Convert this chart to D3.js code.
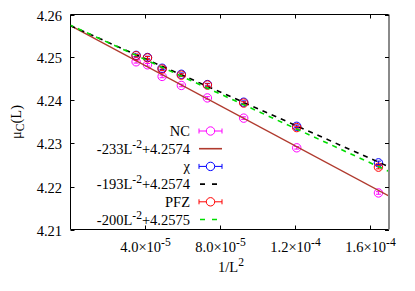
<!DOCTYPE html>
<html><head><meta charset="utf-8">
<script src="https://cdn.jsdelivr.net/npm/d3@7"></script>
<style>
body{margin:0;background:#fff;}
text{font-family:"Liberation Serif","Times New Roman",serif;}
</style></head>
<body><svg id="c" width="415" height="291"></svg>
<script>
// ---- data ----
const L = [169, 156, 143, 130, 117, 104, 91, 78];
const ncValues  = [4.2490, 4.2483, 4.2456, 4.2435, 4.2406, 4.2359, 4.2290, 4.2185];
const ncErr     = [0.0003, 0.0003, 0.0003, 0.0003, 0.0003, 0.0003, 0.0003, 0.0003];
const chiValues = [4.2505, 4.2500, 4.2475, 4.2461, 4.2437, 4.2396, 4.2340, 4.2255];
const chiErr    = [0.0003, 0.0003, 0.0003, 0.0003, 0.0003, 0.0003, 0.0003, 0.0004];
const pfzValues = [4.2504, 4.2499, 4.2473, 4.2459, 4.2436, 4.2394, 4.2337, 4.2245];
const pfzErr    = [0.0003, 0.0003, 0.0003, 0.0003, 0.0003, 0.0003, 0.0003, 0.0004];
const fits = [
  {a: -233, b: 4.2574},
  {a: -193, b: 4.2574},
  {a: -200, b: 4.2575}
];
const legendLabels = ["NC", "-233L^-2+4.2574", "χ", "-193L^-2+4.2574", "PFZ", "-200L^-2+4.2575"];
const xTicks = [4e-5, 8e-5, 1.2e-4, 1.6e-4];
const xTickLabels = ["4.0×10^-5", "8.0×10^-5", "1.2×10^-4", "1.6×10^-4"];
const yTicks = [4.21, 4.22, 4.23, 4.24, 4.25, 4.26];
const yTickLabels = ["4.21", "4.22", "4.23", "4.24", "4.25", "4.26"];
const xDomain = [0, 1.7e-4];
const yDomain = [4.21, 4.26];

// ---- drawing ----
(function(){
const svg = d3.select("#c");
const pL = 70.5, pR = 389, pT = 14.5, pB = 229.5;
const x = d3.scaleLinear().domain(xDomain).range([pL, pR]);
const y = d3.scaleLinear().domain(yDomain).range([pB, pT]);
const FS = 14.5;

function supText(sel, label) {
  const m = label.match(/^(.*?)\^(-?\d+)(.*)$/);
  if (!m) { sel.text(label); return; }
  sel.append("tspan").text(m[1]);
  sel.append("tspan").attr("dy", -6).attr("font-size", FS * 0.8).text(m[2]);
  if (m[3]) sel.append("tspan").attr("dy", 6).text(m[3]);
}

const g = svg.append("g");
g.append("line").attr("x1", pL).attr("x2", pR).attr("y1", pT).attr("y2", pT).attr("stroke", "#000");
g.append("line").attr("x1", pL).attr("x2", pR).attr("y1", pB).attr("y2", pB).attr("stroke", "#000");
g.append("line").attr("x1", pL).attr("x2", pL).attr("y1", pT).attr("y2", pB).attr("stroke", "#000");
g.append("line").attr("x1", pR).attr("x2", pR).attr("y1", pT).attr("y2", pB).attr("stroke", "#8a8a8a").attr("stroke-width", 2);

yTicks.forEach((t, i) => {
  const yy = Math.round(y(t)) + 0.5;
  g.append("line").attr("x1", pL).attr("x2", pL + 4).attr("y1", yy).attr("y2", yy).attr("stroke", "#000");
  g.append("line").attr("x1", pR - 4).attr("x2", pR).attr("y1", yy).attr("y2", yy).attr("stroke", "#000");
  g.append("text").attr("x", 62).attr("y", yy + 5).attr("text-anchor", "end")
    .attr("font-size", FS).text(yTickLabels[i]);
});
xTicks.forEach((t, i) => {
  const xx = Math.round(x(t)) + 0.5;
  g.append("line").attr("x1", xx).attr("x2", xx).attr("y1", pB).attr("y2", pB - 4).attr("stroke", "#000");
  g.append("line").attr("x1", xx).attr("x2", xx).attr("y1", pT).attr("y2", pT + 4).attr("stroke", "#000");
  const tx = g.append("text").attr("x", xx).attr("y", 252).attr("text-anchor", "middle").attr("font-size", FS);
  supText(tx, xTickLabels[i]);
});

const xl = g.append("text").attr("x", 231).attr("y", 272).attr("text-anchor", "middle").attr("font-size", FS);
supText(xl, "1/L^2");
const yl = g.append("text").attr("transform", "translate(21,122) rotate(-90)").attr("text-anchor", "middle").attr("font-size", FS);
yl.append("tspan").text("μ");
yl.append("tspan").attr("dy", 3).attr("font-size", FS * 0.8).text("C");
yl.append("tspan").attr("dy", -3).text("(L)");

svg.append("clipPath").attr("id", "clip").append("rect")
  .attr("x", pL).attr("y", pT).attr("width", pR - pL - 1).attr("height", pB - pT);
const plot = svg.append("g").attr("clip-path", "url(#clip)");

const invL2 = L.map(l => 1 / (l * l));
const series = [
  {vals: ncValues, err: ncErr, color: "#ff00ff", fit: fits[0], fitColor: "#b03a2e", dash: null},
  {vals: chiValues, err: chiErr, color: "#0000ff", fit: fits[1], fitColor: "#000000", dash: "5,5"},
  {vals: pfzValues, err: pfzErr, color: "#ff0000", fit: fits[2], fitColor: "#00dd00", dash: "5,5"}
];
const R = 4.2;

function drawPoints(sel, s) {
  s.vals.forEach((v, i) => {
    const cx = x(invL2[i]), cy = y(v);
    const y1 = y(v - s.err[i]), y2 = y(v + s.err[i]);
    sel.append("line").attr("x1", cx).attr("x2", cx).attr("y1", y1).attr("y2", y2).attr("stroke", s.color);
    sel.append("line").attr("x1", cx - 2.5).attr("x2", cx + 2.5).attr("y1", y1).attr("y2", y1).attr("stroke", s.color);
    sel.append("line").attr("x1", cx - 2.5).attr("x2", cx + 2.5).attr("y1", y2).attr("y2", y2).attr("stroke", s.color);
    sel.append("circle").attr("cx", cx).attr("cy", cy).attr("r", R).attr("fill", "none").attr("stroke", s.color);
  });
}
function drawFit(sel, s, offset) {
  const line = d3.line().x(d => x(d)).y(d => y(s.fit.a * d + s.fit.b));
  const p = sel.append("path").datum(xDomain).attr("d", line).attr("fill", "none")
    .attr("stroke", s.fitColor).attr("stroke-width", s.dash ? 1.6 : 1.3);
  if (s.dash) p.attr("stroke-dasharray", s.dash).attr("stroke-dashoffset", offset);
}
series.forEach((s, k) => {
  drawPoints(plot, s);
  drawFit(plot, s, k === 2 ? 2 : 0);
});

const legX = 190, sx1 = 199, sx2 = 222, rowY0 = 131, rowH = 17.7;
legendLabels.forEach((lab, i) => {
  const yy = rowY0 + i * rowH;
  const t = g.append("text").attr("x", legX).attr("y", yy + 5).attr("text-anchor", "end").attr("font-size", FS);
  supText(t, lab);
  const s = series[Math.floor(i / 2)];
  if (i % 2 === 0) {
    g.append("line").attr("x1", sx1).attr("x2", sx2).attr("y1", yy).attr("y2", yy).attr("stroke", s.color);
    g.append("line").attr("x1", sx1).attr("x2", sx1).attr("y1", yy - 2.5).attr("y2", yy + 2.5).attr("stroke", s.color);
    g.append("line").attr("x1", sx2).attr("x2", sx2).attr("y1", yy - 2.5).attr("y2", yy + 2.5).attr("stroke", s.color);
    g.append("circle").attr("cx", (sx1 + sx2) / 2).attr("cy", yy).attr("r", R).attr("fill", "#fff").attr("stroke", s.color);
  } else {
    const ln = g.append("line").attr("x1", sx1).attr("x2", sx2).attr("y1", yy).attr("y2", yy)
      .attr("stroke", s.fitColor).attr("stroke-width", 1.6);
    if (s.dash) ln.attr("stroke-dasharray", "5,7").attr("stroke-dashoffset", -1);
  }
});
})();
</script></body></html>
